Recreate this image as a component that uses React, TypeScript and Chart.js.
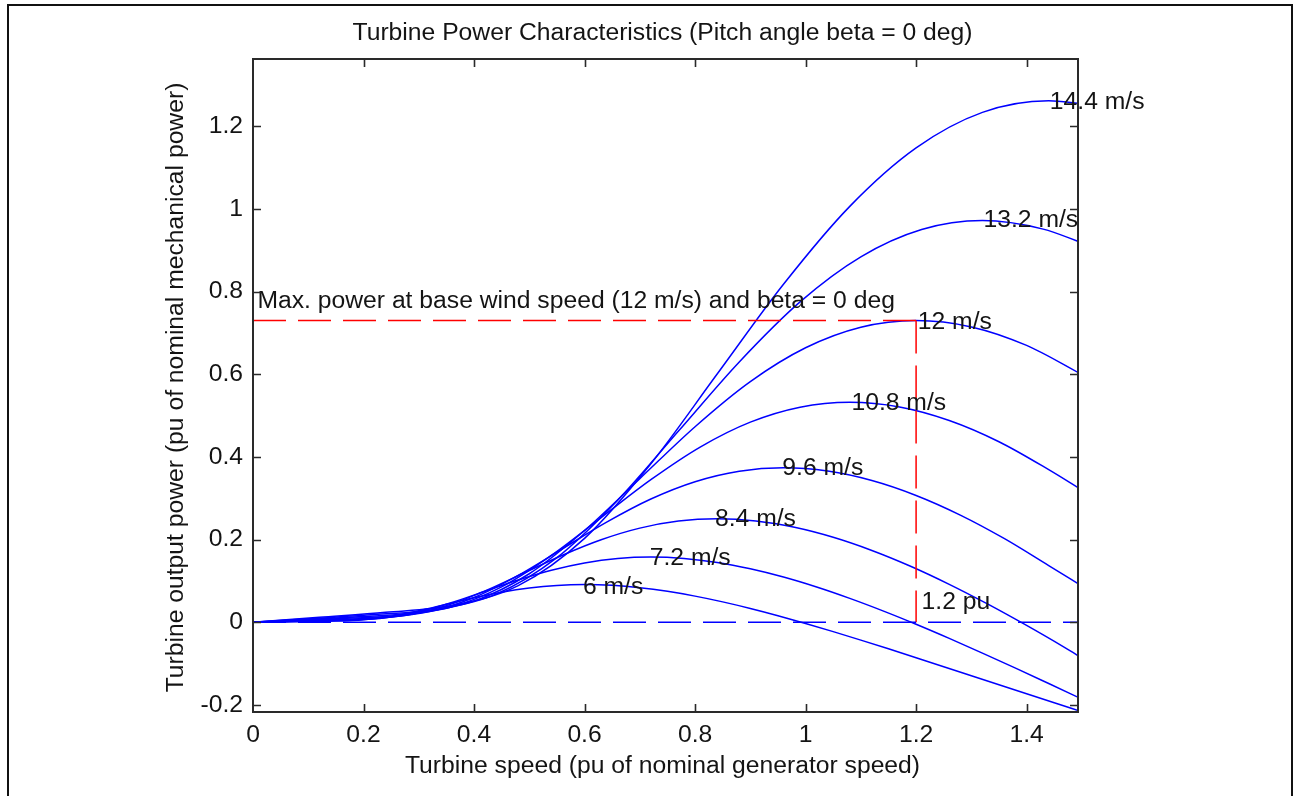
import React, { useEffect, useRef } from 'react';
import { Chart, registerables } from 'chart.js';

Chart.register(...registerables);

// ---------------- data ----------------
const speed6 = [0, 0.05, 0.1, 0.15, 0.2, 0.25, 0.3, 0.35, 0.4, 0.45, 0.5, 0.55, 0.6, 0.65, 0.7, 0.75, 0.8, 0.85, 0.9, 0.95, 1.0, 1.05, 1.1, 1.15, 1.2, 1.25, 1.3, 1.35, 1.4, 1.45, 1.5];
const power6 = [0, 0.0009, 0.0018, 0.0029, 0.0064, 0.0147, 0.0277, 0.0434, 0.0591, 0.0728, 0.083, 0.0892, 0.0913, 0.0893, 0.0837, 0.0749, 0.0633, 0.0494, 0.0335, 0.016, -0.0028, -0.0226, -0.0431, -0.0642, -0.0857, -0.1074, -0.1293, -0.1512, -0.173, -0.1947, -0.2162];

const speed72 = [0, 0.06, 0.12, 0.18, 0.24, 0.3, 0.36, 0.42, 0.48, 0.54, 0.6, 0.66, 0.72, 0.78, 0.84, 0.9, 0.96, 1.02, 1.08, 1.14, 1.2, 1.26, 1.32, 1.38, 1.44, 1.5];
const power72 = [0, 0.0015, 0.003, 0.0051, 0.0111, 0.0254, 0.0479, 0.0751, 0.1022, 0.1258, 0.1434, 0.1542, 0.1577, 0.1543, 0.1447, 0.1294, 0.1094, 0.0853, 0.0578, 0.0276, -0.0048, -0.039, -0.0745, -0.1109, -0.1481, -0.1856];

const speed84 = [0, 0.07, 0.14, 0.21, 0.28, 0.35, 0.42, 0.49, 0.56, 0.63, 0.7, 0.77, 0.84, 0.91, 0.98, 1.05, 1.12, 1.19, 1.26, 1.33, 1.4, 1.47, 1.5];
const power84 = [0, 0.0024, 0.0048, 0.008, 0.0176, 0.0403, 0.0761, 0.1192, 0.1623, 0.1997, 0.2278, 0.2448, 0.2504, 0.2451, 0.2297, 0.2055, 0.1737, 0.1355, 0.0918, 0.0438, -0.0077, -0.0619, -0.0861];

const speed96 = [0, 0.08, 0.16, 0.24, 0.32, 0.4, 0.48, 0.56, 0.64, 0.72, 0.8, 0.88, 0.96, 1.04, 1.12, 1.2, 1.28, 1.36, 1.44, 1.5];
const power96 = [0, 0.0036, 0.0072, 0.012, 0.0262, 0.0601, 0.1136, 0.1779, 0.2422, 0.2981, 0.34, 0.3654, 0.3738, 0.3658, 0.3429, 0.3068, 0.2593, 0.2022, 0.1371, 0.088];

const speed108 = [0, 0.09, 0.18, 0.27, 0.36, 0.45, 0.54, 0.63, 0.72, 0.81, 0.9, 0.99, 1.08, 1.17, 1.26, 1.35, 1.44, 1.5];
const power108 = [0, 0.0051, 0.0102, 0.0171, 0.0373, 0.0856, 0.1618, 0.2533, 0.3449, 0.4244, 0.4841, 0.5203, 0.5322, 0.5209, 0.4882, 0.4368, 0.3692, 0.32];

const speed12 = [0, 0.1, 0.2, 0.3, 0.4, 0.5, 0.6, 0.7, 0.8, 0.9, 1.0, 1.1, 1.2, 1.3, 1.4, 1.5];
const power12 = [0, 0.007, 0.014, 0.0234, 0.0512, 0.1174, 0.2219, 0.3475, 0.4731, 0.5822, 0.664, 0.7137, 0.73, 0.7145, 0.6697, 0.5992];

const speed132 = [0, 0.11, 0.22, 0.33, 0.44, 0.55, 0.66, 0.77, 0.88, 0.99, 1.1, 1.21, 1.32, 1.43, 1.5];
const power132 = [0, 0.0093, 0.0186, 0.0311, 0.0681, 0.1563, 0.2953, 0.4625, 0.6297, 0.7749, 0.8838, 0.9499, 0.9716, 0.951, 0.918];

const speed144 = [0, 0.12, 0.24, 0.36, 0.48, 0.6, 0.72, 0.84, 0.96, 1.08, 1.2, 1.32, 1.44, 1.5];
const power144 = [0, 0.0121, 0.0242, 0.0404, 0.0885, 0.2029, 0.3834, 0.6005, 0.8175, 1.006, 1.1474, 1.2333, 1.2614, 1.2545];

const curveSpeeds = [speed6, speed72, speed84, speed96, speed108, speed12, speed132, speed144];
const curvePowers = [power6, power72, power84, power96, power108, power12, power132, power144];
const curveLabels = ['6 m/s', '7.2 m/s', '8.4 m/s', '9.6 m/s', '10.8 m/s', '12 m/s', '13.2 m/s', '14.4 m/s'];
const labelSpeeds = [0.597, 0.718, 0.836, 0.958, 1.083, 1.203, 1.322, 1.442];
const labelPowers = [0.085, 0.154, 0.2485, 0.373, 0.529, 0.727, 0.973, 1.259];

const maxPower = 0.73;
const baseSpeed = 1.2;
const zeroLineSpeeds = [0, 1.5];
const zeroLinePowers = [0, 0];

const plotTitle = 'Turbine Power Characteristics (Pitch angle beta = 0 deg)';
const xTitle = 'Turbine speed (pu of nominal generator speed)';
const yTitle = 'Turbine output power (pu of nominal mechanical power)';
const noteText = 'Max. power at base wind speed (12 m/s) and beta = 0 deg';
const notePos = [0.008, 0.777];
const puText = '1.2 pu';
const puPos = [1.21, 0.049];

const xLimits = [0, 1.493];
const yLimits = [-0.217, 1.3625];
const tickStep = 0.2;

// ---------------- styling ----------------
const FONT = '"Liberation Sans", Arial, Helvetica, sans-serif';
const FS = 24.7;
const TEXT = '#141414';
const BLUE = '#0000ff';
const RED = '#ff0000';
const AXIS = '#2a2a2a';

const fmt = (v: number) => String(Number(Number(v).toFixed(1)));

const matlabPlugin = {
  id: 'matlabDecor',
  afterDatasetsDraw(chart: any) {
    const { ctx, scales } = chart;
    const x = scales.x;
    const y = scales.y;
    ctx.save();
    ctx.font = `${FS}px ${FONT}`;
    ctx.fillStyle = TEXT;
    ctx.textAlign = 'left';
    ctx.textBaseline = 'middle';
    curveLabels.forEach((t, i) => {
      ctx.fillText(t, x.getPixelForValue(labelSpeeds[i]), y.getPixelForValue(labelPowers[i]));
    });
    ctx.fillText(noteText, x.getPixelForValue(notePos[0]), y.getPixelForValue(notePos[1]));
    ctx.fillText(puText, x.getPixelForValue(puPos[0]), y.getPixelForValue(puPos[1]));
    ctx.restore();
  },
  afterDraw(chart: any) {
    const { ctx, chartArea, scales } = chart;
    const { left, right, top, bottom } = chartArea;
    const x = scales.x;
    const y = scales.y;
    ctx.save();
    // axes box
    ctx.strokeStyle = AXIS;
    ctx.lineWidth = 2;
    ctx.strokeRect(left, top, right - left, bottom - top);
    // inward ticks
    const tl = 8;
    ctx.beginPath();
    x.ticks.forEach((t: any) => {
      const px = Math.round(x.getPixelForValue(t.value)) + 0.5;
      if (px <= left + 1 || px >= right - 1) return;
      ctx.moveTo(px, bottom);
      ctx.lineTo(px, bottom - tl);
      ctx.moveTo(px, top);
      ctx.lineTo(px, top + tl);
    });
    y.ticks.forEach((t: any) => {
      const py = Math.round(y.getPixelForValue(t.value)) + 0.5;
      if (py <= top + 1 || py >= bottom - 1) return;
      ctx.moveTo(left, py);
      ctx.lineTo(left + tl, py);
      ctx.moveTo(right, py);
      ctx.lineTo(right - tl, py);
    });
    ctx.lineWidth = 1.6;
    ctx.stroke();

    // titles
    ctx.font = `${FS}px ${FONT}`;
    ctx.fillStyle = TEXT;
    ctx.textAlign = 'center';
    ctx.textBaseline = 'alphabetic';
    const cx = (left + right) / 2 - 3;
    ctx.fillText(plotTitle, cx, 40);
    ctx.fillText(xTitle, cx, 773);
    ctx.translate(183, (top + bottom) / 2 + 2);
    ctx.rotate(-Math.PI / 2);
    ctx.fillText(yTitle, 0, 0);
    ctx.restore();
  },
};

export default function App() {
  const canvasRef = useRef<HTMLCanvasElement | null>(null);

  useEffect(() => {
    const prevMargin = document.body.style.margin;
    document.body.style.margin = '0';
    const canvas = canvasRef.current;
    if (!canvas) return;

    const curveSets = curveLabels.map((label, i) => ({
      label,
      data: curveSpeeds[i].map((s, j) => ({ x: s, y: curvePowers[i][j] })),
      borderColor: BLUE,
      borderWidth: 1.5,
      pointRadius: 0,
      fill: false,
      cubicInterpolationMode: 'monotone' as const,
    }));

    const dashed = [
      {
        label: 'zero',
        data: zeroLineSpeeds.map((s, j) => ({ x: s, y: zeroLinePowers[j] })),
        borderColor: BLUE,
        borderWidth: 1.5,
        borderDash: [33, 12],
        pointRadius: 0,
        fill: false,
      },
      {
        label: 'max power',
        data: [
          { x: 0, y: maxPower },
          { x: baseSpeed, y: maxPower },
        ],
        borderColor: RED,
        borderWidth: 1.5,
        borderDash: [33, 12],
        pointRadius: 0,
        fill: false,
      },
      {
        label: 'base speed',
        data: [
          { x: baseSpeed, y: maxPower },
          { x: baseSpeed, y: 0 },
        ],
        borderColor: RED,
        borderWidth: 1.5,
        borderDash: [33, 12],
        pointRadius: 0,
        fill: false,
      },
    ];

    const tickFont = { family: FONT, size: FS };

    const chart = new Chart(canvas, {
      type: 'line',
      data: { datasets: [...dashed, ...curveSets] as any },
      options: {
        animation: false,
        responsive: false,
        devicePixelRatio: 1,
        events: [],
        layout: { padding: { left: 0, top: 59, right: 217, bottom: 0 } },
        plugins: {
          legend: { display: false },
          title: { display: false },
          tooltip: { enabled: false },
        },
        scales: {
          x: {
            type: 'linear',
            min: xLimits[0],
            max: xLimits[1],
            grid: { display: false, drawTicks: false },
            border: { display: false },
            ticks: {
              stepSize: tickStep,
              includeBounds: false,
              autoSkip: false,
              maxRotation: 0,
              padding: 8,
              color: TEXT,
              font: tickFont,
              callback: (v: any) => fmt(v),
            },
            afterFit: (s: any) => {
              s.height = 84;
            },
          },
          y: {
            type: 'linear',
            min: yLimits[0],
            max: yLimits[1],
            grid: { display: false, drawTicks: false },
            border: { display: false },
            ticks: {
              stepSize: tickStep,
              includeBounds: false,
              autoSkip: false,
              padding: 10,
              color: TEXT,
              font: tickFont,
              callback: (v: any) => fmt(v),
            },
            afterFit: (s: any) => {
              s.width = 253;
            },
          },
        },
      } as any,
      plugins: [matlabPlugin],
    });

    return () => {
      chart.destroy();
      document.body.style.margin = prevMargin;
    };
  }, []);

  return (
    <div style={{ position: 'fixed', left: 0, top: 0, width: 1295, height: 796, overflow: 'hidden', background: '#fff' }}>
      <div
        style={{
          position: 'absolute',
          left: 7,
          top: 4,
          width: 1282,
          height: 800,
          borderTop: '2px solid #111',
          borderLeft: '2px solid #111',
          borderRight: '2px solid #111',
        }}
      />
      <canvas ref={canvasRef} width={1295} height={796} style={{ position: 'absolute', left: 0, top: 0 }} />
    </div>
  );
}
